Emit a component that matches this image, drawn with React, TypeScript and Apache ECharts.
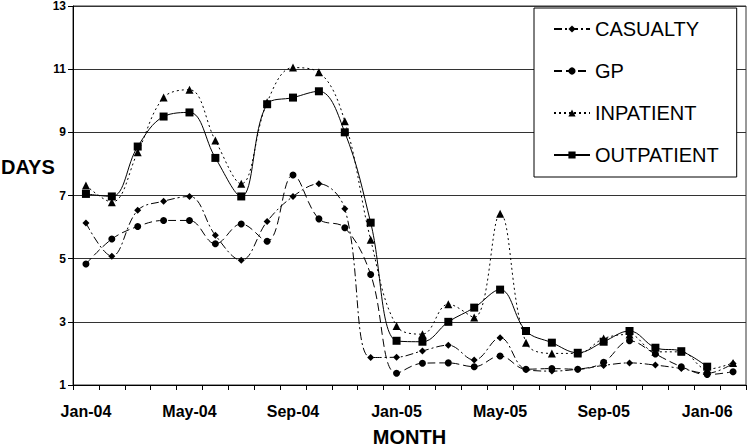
import React, { useEffect, useRef } from "react";
import * as echarts from "echarts";

const months = [
  "Jan-04", "Feb-04", "Mar-04", "Apr-04", "May-04", "Jun-04", "Jul-04", "Aug-04", "Sep-04", "Oct-04", "Nov-04", "Dec-04",
  "Jan-05", "Feb-05", "Mar-05", "Apr-05", "May-05", "Jun-05", "Jul-05", "Aug-05", "Sep-05", "Oct-05", "Nov-05", "Dec-05",
  "Jan-06", "Feb-06",
];

const casualty = [6.13, 5.08, 6.53, 6.82, 6.97, 5.74, 4.95, 6.18, 6.97, 7.37, 6.58, 1.87, 1.88, 2.08, 2.26, 1.79, 2.5, 1.49, 1.44, 1.5, 1.62, 1.7, 1.63, 1.52, 1.37, 1.68];
const gp = [4.83, 5.62, 6.02, 6.21, 6.21, 5.47, 6.1, 5.55, 7.65, 6.26, 5.98, 4.5, 1.37, 1.69, 1.7, 1.58, 1.92, 1.5, 1.52, 1.5, 1.72, 2.4, 1.98, 1.58, 1.33, 1.42];
const inpatient = [7.32, 6.79, 8.37, 10.1, 10.35, 8.74, 7.37, 9.95, 11.05, 10.9, 9.35, 5.6, 2.87, 2.61, 3.56, 3.14, 6.42, 2.34, 2.0, 2.0, 2.47, 2.6, 2.05, 2.05, 1.5, 1.7];
const outpatient: (number | null)[] = [7.05, 6.97, 8.55, 9.5, 9.63, 8.19, 6.97, 9.89, 10.1, 10.3, 9.0, 6.14, 2.4, 2.37, 3.0, 3.45, 4.02, 2.71, 2.34, 2.02, 2.37, 2.71, 2.18, 2.07, 1.58, null];

const FONT = "Liberation Sans, Arial, sans-serif";

export default function App() {
  const ref = useRef<HTMLDivElement>(null);
  useEffect(() => {
    if (!ref.current) return;
    const chart = echarts.init(ref.current, null, { renderer: "svg" });
    const mk = (name: string, data: (number | null)[], symbol: string, size: number, dash: any) => ({
      name,
      type: "line",
      data,
      smooth: 0.38,
      symbol,
      symbolSize: size,
      showSymbol: true,
      lineStyle: { color: "#000", width: 1, type: dash },
      itemStyle: { color: "#000", borderColor: "#000", borderWidth: 0 },
      emphasis: { disabled: true },
    });
    chart.setOption({
      animation: false,
      backgroundColor: "#fff",
      textStyle: { fontFamily: FONT },
      grid: {
        left: 73, top: 6, right: 1, bottom: 63,
        show: true, borderColor: "#333", borderWidth: 1,
        containLabel: false, outerBoundsMode: "none",
      },
      legend: {
        orient: "vertical",
        left: 534,
        top: 8,
        padding: [11, 18, 12, 19],
        itemGap: 22,
        itemWidth: 36,
        itemHeight: 9,
        backgroundColor: "#fff",
        borderColor: "#000",
        borderWidth: 1,
        borderRadius: 0,
        textStyle: { fontSize: 20, color: "#000", fontFamily: FONT },
        data: ["CASUALTY", "GP", "INPATIENT", "OUTPATIENT"],
      },
      xAxis: {
        type: "category",
        data: months,
        boundaryGap: true,
        axisLine: { lineStyle: { color: "#000", width: 1 } },
        axisTick: { show: true, interval: 0, length: 5, lineStyle: { color: "#000" } },
        axisLabel: { interval: 3, fontSize: 16, fontWeight: "bold", color: "#000", margin: 18, fontFamily: FONT },
        name: "MONTH",
        nameLocation: "middle",
        nameGap: 44,
        nameTextStyle: { fontSize: 20, lineHeight: 16, fontWeight: "bold", color: "#000", fontFamily: FONT },
      },
      yAxis: {
        type: "value",
        min: 1,
        max: 13,
        interval: 2,
        axisLine: { show: true, lineStyle: { color: "#000", width: 1 } },
        axisTick: { show: true, length: 5, lineStyle: { color: "#000" } },
        axisLabel: { fontSize: 12, lineHeight: 9, fontWeight: "bold", color: "#000", margin: 7, fontFamily: FONT },
        splitLine: { show: true, lineStyle: { color: "#333", width: 1 } },
      },
      graphic: [
        {
          type: "text",
          left: 1,
          top: 157,
          style: { text: "DAYS", fontSize: 20, fontWeight: "bold", fill: "#000", fontFamily: FONT },
        },
      ],
      series: [
        mk("CASUALTY", casualty, "diamond", 7, [8, 3, 2, 3]),
        mk("GP", gp, "circle", 7, [8, 4]),
        mk("INPATIENT", inpatient, "triangle", 8, [2, 3]),
        mk("OUTPATIENT", outpatient, "rect", 8, "solid"),
      ],
    });
    return () => chart.dispose();
  }, []);
  return <div ref={ref} style={{ position: "fixed", left: 0, top: 0, width: 747, height: 448 }} />;
}
